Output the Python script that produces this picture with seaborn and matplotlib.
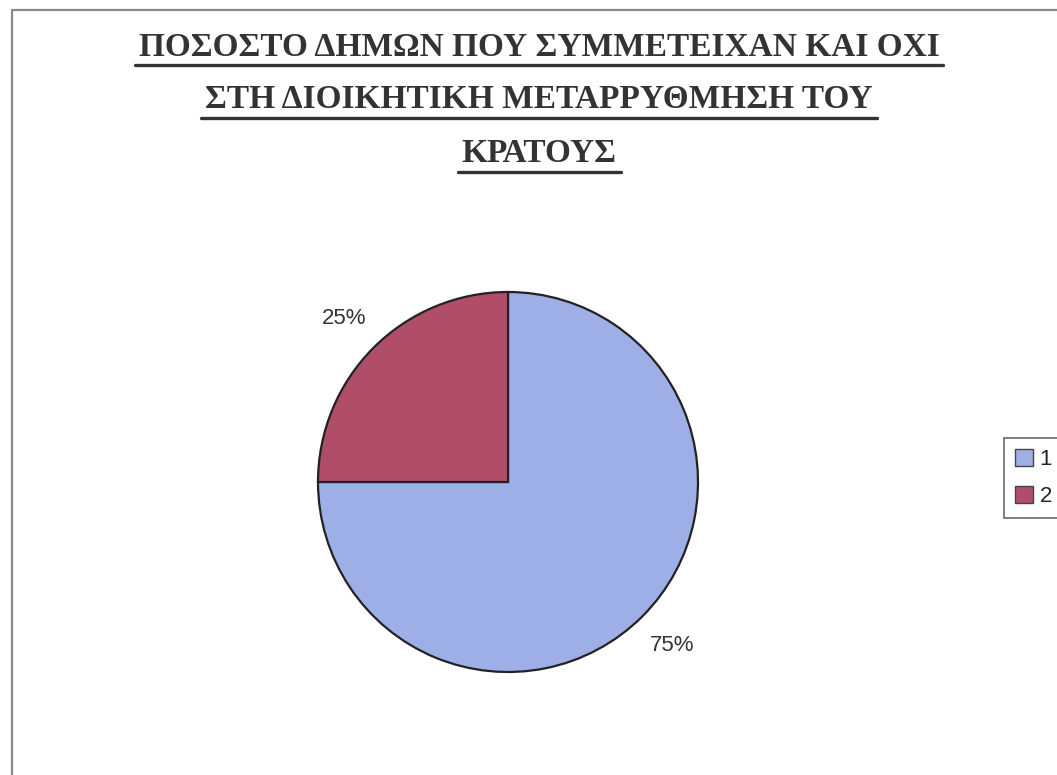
import matplotlib
matplotlib.use("Agg")
import matplotlib.pyplot as plt
from matplotlib.patches import Rectangle, Patch
from matplotlib.lines import Line2D
import seaborn as sns

# Data
labels = ["1", "2"]
values = [75, 25]
title_lines = [
    "ΠΟΣΟΣΤΟ ΔΗΜΩΝ ΠΟΥ ΣΥΜΜΕΤΕΙΧΑΝ ΚΑΙ ΟΧΙ",
    "ΣΤΗ ΔΙΟΙΚΗΤΙΚΗ ΜΕΤΑΡΡΥΘΜΗΣΗ ΤΟΥ",
    "ΚΡΑΤΟΥΣ",
]

sns.set_theme(style="white")
plt.rcParams["font.family"] = ["Liberation Sans", "DejaVu Sans"]

colors = ["#9dafe6", "#b04e69"]

W, H = 1057, 775
fig = plt.figure(figsize=(W / 100, H / 100), dpi=100)
fig.patch.set_facecolor("white")

# outer chart frame
fig.patches.append(Rectangle((12 / W, -0.05), 1.1, 1 - 10 / H + 0.05,
                             transform=fig.transFigure, fill=False,
                             edgecolor="#8a8a8a", linewidth=1.6))

# pie axes: centre (508, 482), radius 190 px
cx, cy, r = 508, 482, 190
ax = fig.add_axes([(cx - r) / W, (H - cy - r) / H, 2 * r / W, 2 * r / H])
wedges, texts, autotexts = ax.pie(
    values,
    colors=colors,
    startangle=90,
    counterclock=False,
    autopct="%1.0f%%",
    pctdistance=1.22,
    wedgeprops=dict(edgecolor="#222222", linewidth=1.6),
    textprops=dict(fontsize=16, color="#333333"),
)
ax.set_xlim(-1, 1)
ax.set_ylim(-1, 1)
ax.set_aspect("equal")
ax.axis("off")

# title, bold serif, underlined
title_y = [47, 100, 154]
title_texts = []
for line, y in zip(title_lines, title_y):
    t = fig.text(539 / W, 1 - y / H, line, ha="center", va="center",
                 fontsize=24, fontweight="bold", color="#333333",
                 family=["Liberation Serif", "DejaVu Serif"])
    title_texts.append(t)

fig.canvas.draw()
renderer = fig.canvas.get_renderer()
for t in title_texts:
    bb = t.get_window_extent(renderer)
    yline = (bb.y0 - 2) / H
    fig.lines.append(Line2D([(bb.x0 - 4) / W, (bb.x1 + 4) / W], [yline, yline],
                            transform=fig.transFigure, color="#333333",
                            linewidth=2.4))

# legend, its box runs past the right edge as in the original
handles = [Patch(facecolor=c, edgecolor="#444444") for c in colors]
leg = fig.legend(handles, labels, loc="upper left",
                 bbox_to_anchor=(1004 / W, 1 - 438 / H),
                 borderaxespad=0,
                 fontsize=16, frameon=True, fancybox=False,
                 handlelength=0.8, handleheight=0.8, handletextpad=0.3,
                 borderpad=0.5, labelspacing=0.7)
leg.get_frame().set_edgecolor("#444444")
leg.get_frame().set_linewidth(1.2)

fig.savefig("out.png", dpi=100)
